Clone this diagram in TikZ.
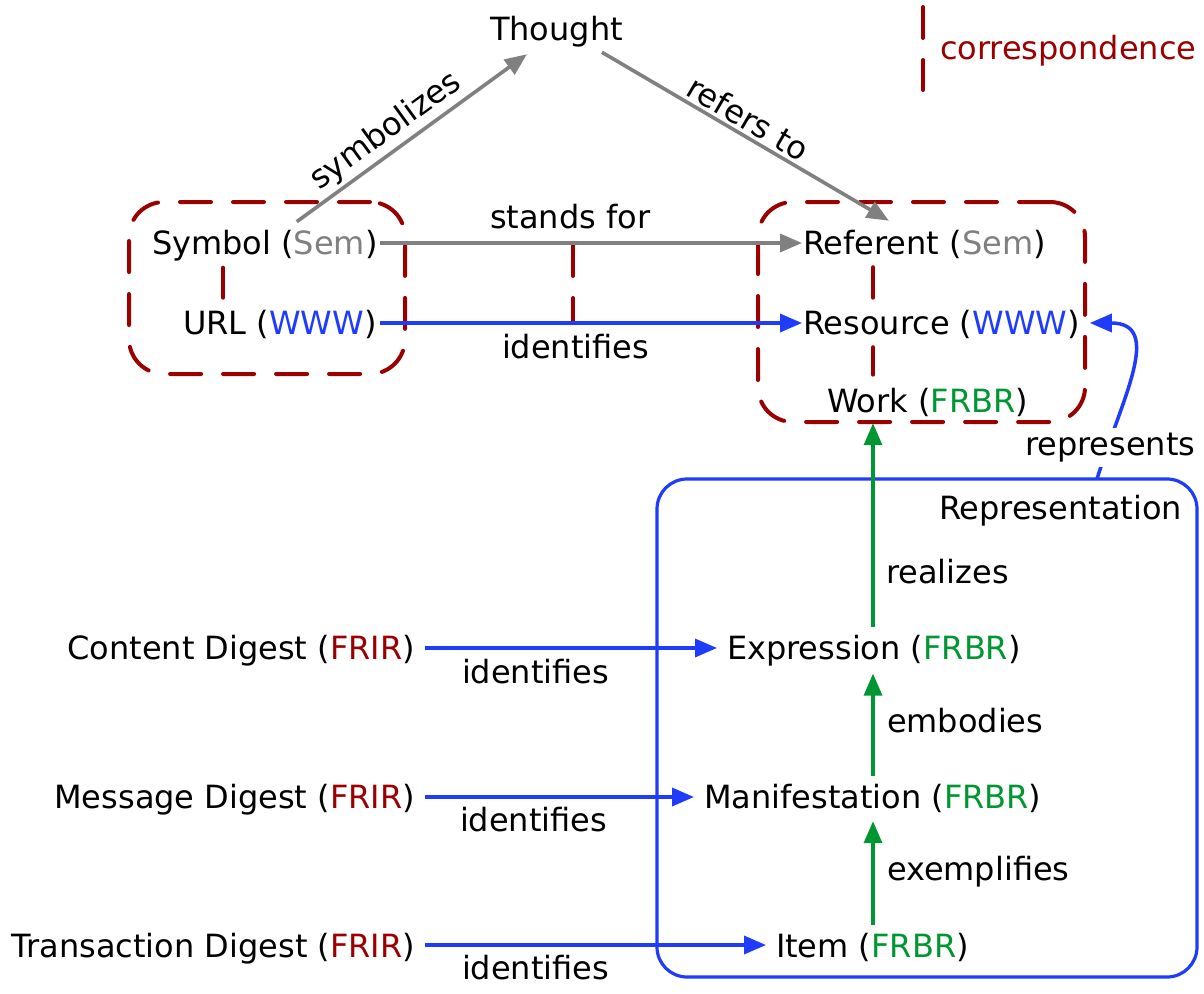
\documentclass[tikz,border=0pt]{standalone}
\usepackage{fontspec}
\setmainfont{DejaVu Sans}
\usetikzlibrary{arrows.meta,calc}
\definecolor{cred}{RGB}{155,0,0}
\definecolor{cgray}{RGB}{128,128,128}
\definecolor{cblue}{RGB}{30,60,250}
\definecolor{cgreen}{RGB}{0,150,50}
\begin{document}
\begin{tikzpicture}[x=1pt,y=-1pt,
  every node/.style={font=\fontsize{32pt}{38pt}\selectfont, inner sep=0pt, outer sep=0pt},
  lbl/.style={anchor=base west},
  lble/.style={anchor=base east},
  corr/.style={draw=cred, line width=4pt, line cap=round, dash pattern=on 31pt off 22pt},
  headed/.style={-{Triangle[length=22pt,width=18pt]}},
  grayarr/.style={headed, draw=cgray, line width=3.6pt},
  bluearr/.style={headed, draw=cblue, line width=3.5pt},
  greenarr/.style={headed, draw=cgreen, line width=3.5pt},
]
\fill[white] (0,0) rectangle (1204,993);
\path[use as bounding box] (0,0) rectangle (1204,993);

% boxes
\node[corr, rounded corners=35pt, minimum width=276pt, minimum height=172pt] (boxL) at (267,288) {};
\node[corr, rounded corners=35pt, minimum width=327pt, minimum height=220pt] (boxR) at (921.5,312) {};
\node[draw=cblue, line width=3.2pt, rounded corners=30pt, minimum width=540pt, minimum height=498pt] (repbox) at (927,728) {};

% main texts
\node[lbl] (thought) at (490,40) {Thought};
\node[lbl] (sym) at (152,254) {Symbol (\textcolor{cgray}{Sem})};
\node[lbl] (url) at (183,334) {URL (\textcolor{cblue}{WWW})};
\node[lbl] (ref) at (803,254) {Referent (\textcolor{cgray}{Sem})};
\node[lbl] (res) at (803,334) {Resource (\textcolor{cblue}{WWW})};
\node[lbl] (work) at (827,412) {Work (\textcolor{cgreen}{FRBR})};
\node[lbl] (expr) at (727,659) {Expression (\textcolor{cgreen}{FRBR})};
\node[lbl] (manif) at (704,808) {Manifestation (\textcolor{cgreen}{FRBR})};
\node[lbl] (item) at (776,957) {Item (\textcolor{cgreen}{FRBR})};
\node[lble] (cd) at (415,659) {Content Digest (\textcolor{cred}{FRIR})};
\node[lble] (md) at (415,808) {Message Digest (\textcolor{cred}{FRIR})};
\node[lble] (td) at (415,957) {Transaction Digest (\textcolor{cred}{FRIR})};
\node[lbl, text=cred] (legend) at (940,59) {correspondence};
\node[lbl] (replabel) at (939,519) {Representation};

% edge labels
\node[lbl] (standsfor) at (490,228) {stands for};
\node[lbl] (ident0) at (502,358) {identifies};
\node[lbl] (ident1) at (462,683) {identifies};
\node[lbl] (ident2) at (460,831) {identifies};
\node[lbl] (ident3) at (462,979) {identifies};
\node[lbl] (realizes) at (886,583) {realizes};
\node[lbl] (embodies) at (887,732) {embodies};
\node[lbl] (exemplifies) at (887,880) {exemplifies};

% legend sample
\draw[corr] (923,7) -- (923,90);

% correspondences
\coordinate (lc) at (223,0);
\coordinate (mc) at (573,0);
\coordinate (rc) at (873,0);
\draw[corr, shorten <=7pt, shorten >=12pt] (sym.south -| lc) -- (url.north -| lc);
\draw[corr] ([yshift=9pt]sym.base -| mc) -- ([yshift=11pt]url.base -| mc);
\draw[corr, shorten <=9pt, shorten >=12pt] (ref.south -| rc) -- (res.north -| rc);
\draw[corr, shorten <=9pt, shorten >=13pt] (res.south -| rc) -- (work.north -| rc);

% semiotic triangle
\draw[grayarr] ([xshift=32pt,yshift=8pt]sym.north) -- node[sloped, above, pos=0.44, inner sep=5pt] (lsym) {symbolizes} ([xshift=-29.5pt,yshift=-7.6pt]thought.south);
\draw[grayarr] ([xshift=45.5pt,yshift=-5.6pt]thought.south) -- node[sloped, above, pos=0.48, inner sep=5pt] (lref) {refers to} ([xshift=-35.5pt,yshift=9pt]ref.north);
\draw[grayarr, shorten <=2pt, shorten >=1pt] ([yshift=11pt]sym.base east) -- ([yshift=11pt]ref.base west);
\draw[bluearr, shorten <=3pt, shorten >=1pt] ([yshift=11pt]url.base east) -- ([yshift=11pt]res.base west);

% digests
\draw[bluearr, shorten <=10pt, shorten >=10pt] ([yshift=11pt]cd.base east) -- ([yshift=11pt]expr.base west);
\draw[bluearr, shorten <=10pt, shorten >=10pt] ([yshift=11pt]md.base east) -- ([yshift=11pt]manif.base west);
\draw[bluearr, shorten <=10pt, shorten >=10pt] ([yshift=12pt]td.base east) -- ([yshift=12pt]item.base west);

% FRBR chain
\coordinate (gx) at (873,0);
\draw[greenarr, shorten <=8pt, shorten >=9pt] (item.north -| gx) -- (manif.south -| gx);
\draw[greenarr, shorten <=8pt, shorten >=8pt] (manif.north -| gx) -- (expr.south -| gx);
\draw[greenarr, shorten <=8pt, shorten >=7pt] (expr.north -| gx) -- (work.south -| gx);

% represents
\draw[bluearr, shorten >=8pt] ([xshift=170pt]repbox.north) to[out=73, in=0, looseness=1.35] ([xshift=2pt,yshift=11pt]res.base east);
\node[lbl, fill=white, inner ysep=5pt] (represents) at (1025,455) {represents};
\end{tikzpicture}
\end{document}
